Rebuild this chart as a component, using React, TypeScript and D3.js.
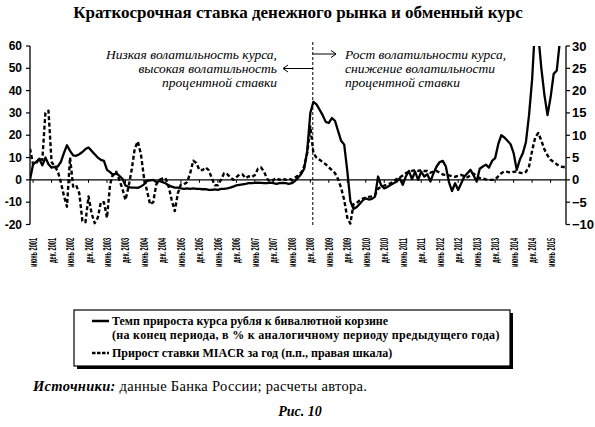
import React from "react";
import * as d3 from "d3";

// Month index: months since Jan 2001 (0 = Jan 2001). Series start in May 2001.
const START_MONTH = 4;
const END_MONTH = 178;

// Rate of growth of the ruble vs bi-currency basket, % y/y (left scale)
const rubleBasket: number[] = [
  // 2001 May-Dec
  0, 7, 8, 9.5, 6.5, 10, 7, 5.5,
  // 2002
  5.8, 6, 8, 12, 15.5, 13, 11, 10.8, 11.5, 12.5, 13.8, 14.5,
  // 2003
  13, 11.5, 10, 9, 8.5, 4.5, 3.5, 2.2, 3, 1.8, 0.5, -2.5,
  // 2004
  -3.2, -3.5, -3.5, -3.6, -3, -2, -0.5, -0.2, 0, -1, -0.5, -1,
  // 2005
  -1.5, -2.5, -3, -3.5, -3.5, -3.8, -4, -3.8, -4, -3.8, -4, -4,
  // 2006
  -4.2, -4.2, -4.5, -4.5, -4.3, -4.5, -4, -4, -3.8, -3.5, -3, -2.5,
  // 2007
  -2.2, -2, -1.8, -1.5, -1.5, -1.3, -1.2, -1.3, -1.5, -1.5, -1.2, -1.5,
  // 2008
  -1.8, -1.5, -1.3, -1.5, -1.8, -1.5, -0.5, 1, 2.5, 5, 13, 30,
  // 2009
  35, 33.8, 31.5, 29, 26, 25.5, 27.7, 26.5, 22, 17.5, 15.8, 4,
  // 2010
  -9.5, -13, -12.3, -10.8, -9.2, -8.3, -8.8, -8.5, -7.5, 1.5, -2.5, -3.8,
  // 2011
  -3.2, -2.3, -1.5, -0.8, 0.7, -2.2, 1.5, 4, 0.3, 3.7, 0, 3.7,
  // 2012
  1.5, 2.5, -0.7, 3, 6, 8, 8.5, 6, -1, -5, -1.5, -4.5,
  // 2013
  -1.5, 1.5, 3, 4.5, 2, -0.7, 5, 6, 6.8, 5.5, 8.5, 9.7,
  // 2014
  16, 20, 19, 17.5, 16, 12, 4.5, 9, 12, 17, 29, 45,
  // 2015 Jan-Nov
  70, 65, 50, 38, 29, 37, 47.5, 49, 62, 70, 68,
];

// Change of MIACR rate over the year, p.p. (right scale)
const miacrChange: number[] = [
  // 2001 May-Dec
  7, 3.5, 3.7, 4.8, 4.5, 15, 15.5, 4,
  // 2002
  3, 2, -0.5, -3.5, -6, 5, -1.5, -1.2, -3, -9.2, -9.5, -3.7,
  // 2003
  -7.5, -9.7, -8.5, -5, -5, -8.5, -1, 1.5, 1.8, 0, -2, -4.5,
  // 2004
  -1.5, 2.2, 7, 8.6, 5.8, 0.5, -2.5, -5.5, -5, -1, 0, 0.3,
  // 2005
  0.4, -1.5, -4.5, -7, -3, -1, -1, -0.5, 1.5, 4.3, 3.8, 2.2,
  // 2006
  2.2, 2.8, 2.2, 0.4, -1.2, -1.2, 0, 1.5, 1.3, 0.6, 0, 0.6,
  // 2007
  1.2, 1.2, 0.4, 0.8, 0.6, 1.1, 2.5, 2.8, 1.8, 0.2, -0.4, 0,
  // 2008
  0.4, 0, 0.3, 0, 0.3, 0, 0.5, 1, 1.6, 3, 6, 12,
  // 2009
  6, 5, 4.5, 4, 3.5, 2.8, 2.2, 1.5, 0.2, -1.8, -4.5, -8.5,
  // 2010
  -9.8, -5.5, -5.2, -4.6, -4.2, -4, -3.8, -3.7, -3.4, -2, -1.5, -1.3,
  // 2011
  -1, -0.8, -0.3, 0.2, 0.5, 1, 1.5, 1.8, 2, 2.2, 2, 2.2,
  // 2012
  2, 2, 1.6, 1.9, 2, 1.6, 1.2, 1.1, 1, 0.8, 0.7, 0.9,
  // 2013
  1.1, 0.8, 0.6, 1, 1.4, 0.8, 0.4, 0.3, 0.1, 0, 0, 0.1,
  // 2014
  0.8, 1.5, 1.9, 1.8, 1.6, 1.8, 1.9, 1.6, 1.5, 1.8, 3, 6.5,
  // 2015 Jan-Nov
  9.5, 10.5, 8.8, 6.8, 5.5, 4.5, 4, 3.5, 3, 2.9, 2.9,
];

const tickLabels: string[] = [
  "июнь 2001", "дек. 2001", "июнь 2002", "дек. 2002", "июнь 2003", "дек. 2003",
  "июнь 2004", "дек. 2004", "июнь 2005", "дек. 2005", "июнь 2006", "дек. 2006",
  "июнь 2007", "дек. 2007", "июнь 2008", "дек. 2008", "июнь 2009", "дек. 2009",
  "июнь 2010", "дек. 2010", "июнь 2011", "дек. 2011", "июнь 2012", "дек. 2012",
  "июнь 2013", "дек. 2013", "июнь 2014", "дек. 2014", "июнь 2015",
];
const FIRST_TICK_MONTH = 5; // June 2001
const TICK_STEP = 6;

const leftTicks = [-20, -10, 0, 10, 20, 30, 40, 50, 60];
const rightTicks = [-10, -5, 0, 5, 10, 15, 20, 25, 30];
const DIVIDER_MONTH = 95.8;

const title = "Краткосрочная ставка денежного рынка и обменный курс";
const noteLeft = ["Низкая волатильность курса,", "высокая волатильность", "процентной ставки"];
const noteRight = ["Рост волатильности курса,", "снижение волатильности", "процентной ставки"];
const legend1a = "Темп прироста курса рубля к бивалютной корзине";
const legend1b = "(на конец периода, в % к аналогичному периоду предыдущего года)";
const legend2 = "Прирост ставки MIACR за год (п.п., правая шкала)";

const SERIF = "'Liberation Serif', 'Times New Roman', serif";
const SANS = "'Liberation Sans', Arial, sans-serif";

export default function App() {
  const W = 595, H = 427;
  const plotL = 30, plotR = 566, plotT = 46, plotB = 224.5;

  const x = d3.scaleLinear().domain([START_MONTH, END_MONTH]).range([plotL, plotR]);
  const yL = d3.scaleLinear().domain([-20, 60]).range([plotB, plotT]);
  const yR = d3.scaleLinear().domain([-10, 30]).range([plotB, plotT]);

  const solidLine = d3.line<number>().x((_, i) => x(START_MONTH + i)).y((d) => yL(d));
  const dashLine = d3.line<number>().x((_, i) => x(START_MONTH + i)).y((d) => yR(d));

  const zeroY = yL(0);
  const divX = x(DIVIDER_MONTH);

  return (
    <svg width={W} height={H} style={{ position: "absolute", left: 0, top: 0, background: "#fff" }}>
      <defs>
        <clipPath id="plotClip">
          <rect x={plotL} y={plotT} width={plotR - plotL} height={plotB - plotT + 4} />
        </clipPath>
      </defs>
      <rect x={0} y={0} width={W} height={H} fill="#fff" />

      {/* Title */}
      <text x={298} y={18} textAnchor="middle" fontFamily={SERIF} fontWeight="bold" fontSize={17} fill="#000">
        {title}
      </text>

      {/* Left axis */}
      <line x1={plotL} x2={plotL} y1={plotT} y2={plotB} stroke="#000" strokeWidth={1.3} />
      {leftTicks.map((t) => (
        <g key={"l" + t}>
          <line x1={plotL - 4} x2={plotL} y1={yL(t)} y2={yL(t)} stroke="#000" strokeWidth={1.2} />
          <text x={22} y={yL(t) + 4} textAnchor="end" fontFamily={SANS} fontWeight="bold" fontSize={12} fill="#000">
            {t < 0 ? "-" + Math.abs(t) : String(t)}
          </text>
        </g>
      ))}

      {/* Right axis */}
      <line x1={plotR} x2={plotR} y1={plotT} y2={plotB} stroke="#000" strokeWidth={1.3} />
      {rightTicks.map((t) => (
        <g key={"r" + t}>
          <line x1={plotR} x2={plotR + 4} y1={yR(t)} y2={yR(t)} stroke="#000" strokeWidth={1.2} />
          <text x={572} y={yR(t) + 4.5} textAnchor="start" fontFamily={SANS} fontWeight="bold" fontSize={13} fill="#000">
            {t < 0 ? "\u2212" + Math.abs(t) : String(t)}
          </text>
        </g>
      ))}

      {/* Zero line with ticks */}
      <line x1={plotL} x2={plotR} y1={zeroY} y2={zeroY} stroke="#000" strokeWidth={1.3} />
      {tickLabels.map((lab, k) => {
        const tx = x(FIRST_TICK_MONTH + k * TICK_STEP);
        const isJune = lab.startsWith("июнь");
        return (
          <g key={lab}>
            <line x1={tx} x2={tx} y1={zeroY} y2={zeroY + 3} stroke="#000" strokeWidth={1} />
            <text
              transform={`translate(${tx + 4},238) rotate(-90)`}
              textAnchor="end"
              fontFamily={SANS}
              fontWeight="bold"
              fontSize={11.5}
              textLength={isJune ? 29 : 25}
              lengthAdjust="spacingAndGlyphs"
              fill="#000"
            >
              {lab}
            </text>
          </g>
        );
      })}

      {/* Divider */}
      <line x1={divX} x2={divX} y1={42} y2={227} stroke="#000" strokeWidth={1} strokeDasharray="3 2" />

      {/* Series */}
      <g clipPath="url(#plotClip)">
        <path d={dashLine(miacrChange) || ""} fill="none" stroke="#000" strokeWidth={2.4} strokeDasharray="4 2.5" strokeLinejoin="round" />
        <path d={solidLine(rubleBasket) || ""} fill="none" stroke="#000" strokeWidth={2.3} strokeLinejoin="round" />
      </g>

      {/* Annotations */}
      {noteLeft.map((s, i) => (
        <text key={"nl" + i} x={277} y={59 + i * 14} textAnchor="end" fontFamily={SERIF} fontStyle="italic" fontSize={13.5} fill="#000">
          {s}
        </text>
      ))}
      {noteRight.map((s, i) => (
        <text key={"nr" + i} x={345} y={59 + i * 14} textAnchor="start" fontFamily={SERIF} fontStyle="italic" fontSize={13.5} fill="#000">
          {s}
        </text>
      ))}
      {/* arrows */}
      <line x1={divX} x2={284} y1={68.5} y2={68.5} stroke="#000" strokeWidth={1} />
      <polyline points={`${288},${65} ${283},${68.5} ${288},${72}`} fill="none" stroke="#000" strokeWidth={1} />
      <line x1={divX} x2={336} y1={54} y2={54} stroke="#000" strokeWidth={1} />
      <polyline points={`${331},${50.5} ${336},${54} ${331},${57.5}`} fill="none" stroke="#000" strokeWidth={1} />

      {/* Legend */}
      <rect x={77} y={313} width={436} height={56} fill="#000" />
      <rect x={74} y={310} width={436} height={56} fill="#fff" stroke="#000" strokeWidth={1.2} />
      <line x1={92} x2={109} y1={321} y2={321} stroke="#000" strokeWidth={2.5} />
      <text x={112} y={325} fontFamily={SERIF} fontWeight="bold" fontSize={12} fill="#000">{legend1a}</text>
      <text x={112} y={339} fontFamily={SERIF} fontWeight="bold" fontSize={12} letterSpacing={0.3} fill="#000">{legend1b}</text>
      <line x1={92} x2={109} y1={353} y2={353} stroke="#000" strokeWidth={2.5} strokeDasharray="3.5 1.5" />
      <text x={112} y={357} fontFamily={SERIF} fontWeight="bold" fontSize={12} fill="#000">{legend2}</text>

      {/* Footer */}
      <text x={33} y={391} fontFamily={SERIF} fontSize={14.5} letterSpacing={0.3} fill="#000">
        <tspan fontStyle="italic" fontWeight="bold">Источники:</tspan>
        <tspan> данные Банка России; расчеты автора.</tspan>
      </text>
      <text x={300} y={416} textAnchor="middle" fontFamily={SERIF} fontStyle="italic" fontWeight="bold" fontSize={14} fill="#000">
        Рис. 10
      </text>
    </svg>
  );
}
